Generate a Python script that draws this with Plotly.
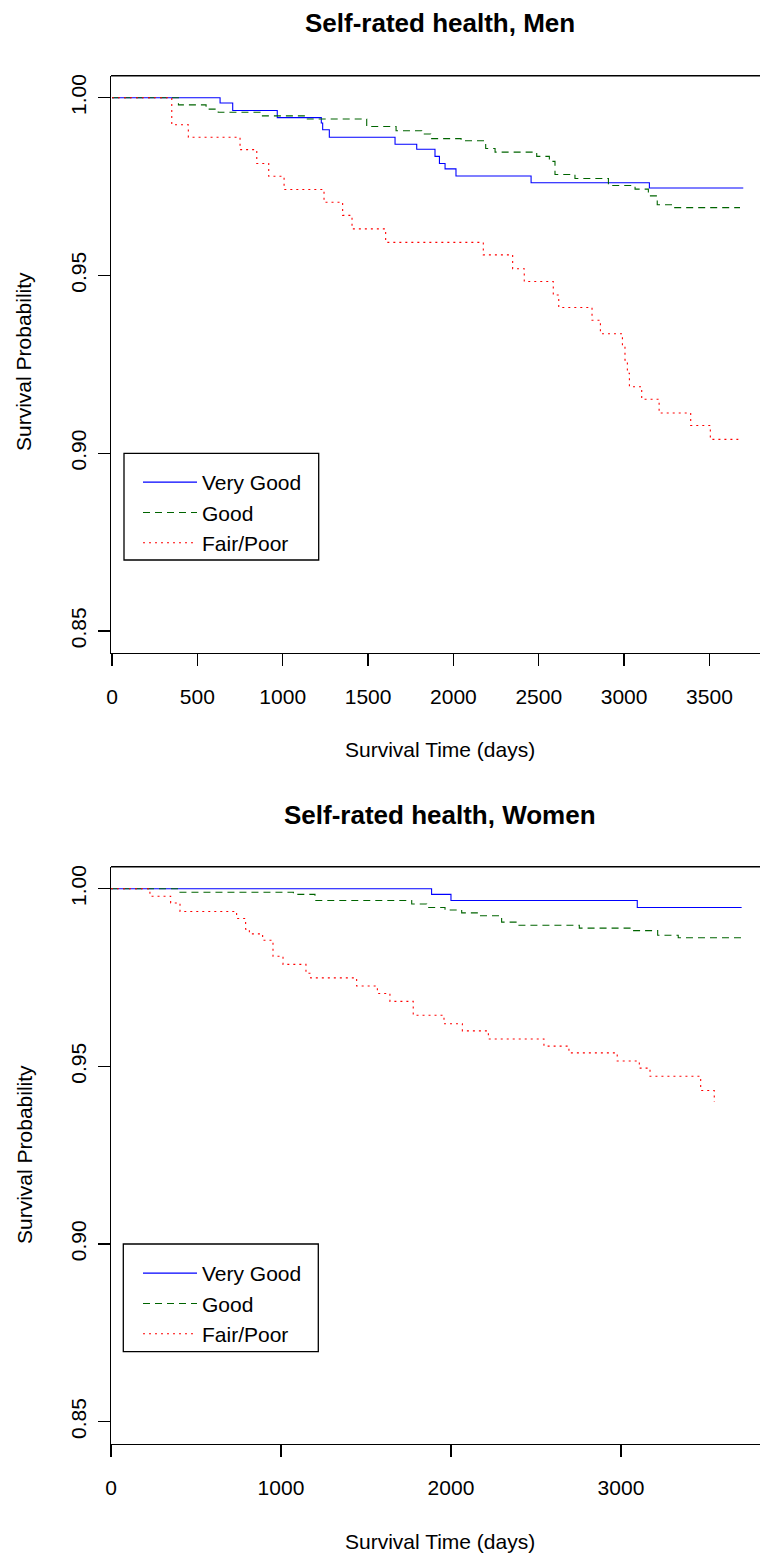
import plotly.graph_objects as go

# ---------------- Data ----------------
groups = ["Very Good", "Good", "Fair/Poor"]

# Men
men_vg_t = [0, 633, 707, 968, 1226, 1234, 1273, 1658, 1785, 1892, 1918, 1951, 2015, 2455, 3148, 3698]
men_vg_s = [1.0, 0.9985, 0.9964, 0.9944, 0.9929, 0.9910, 0.9889, 0.9869, 0.9855, 0.9835, 0.9815,
            0.9800, 0.9780, 0.9761, 0.9746, 0.9746]

men_good_t = [0, 389, 551, 622, 867, 1144, 1492, 1664, 1814, 1867, 2045, 2189, 2244, 2488, 2562,
              2595, 2712, 2908, 3064, 3142, 3194, 3282, 3679]
men_good_s = [1.0, 0.9980, 0.9968, 0.9959, 0.9949, 0.9940, 0.9919, 0.9907, 0.9898, 0.9885, 0.9879,
              0.9857, 0.9847, 0.9835, 0.9821, 0.9784, 0.9773, 0.9753, 0.9743, 0.9724, 0.9699,
              0.9691, 0.9691]

men_fp_t = [0, 350, 447, 750, 848, 918, 1008, 1242, 1351, 1406, 1603, 2175, 2347, 2415, 2585, 2617,
            2812, 2861, 2990, 3005, 3019, 3031, 3103, 3205, 3390, 3505, 3669]
men_fp_s = [1.0, 0.9924, 0.9889, 0.9854, 0.9815, 0.9779, 0.9742, 0.9706, 0.9669, 0.9631, 0.9593,
            0.9558, 0.9519, 0.9483, 0.9445, 0.9410, 0.9374, 0.9336, 0.9300, 0.9262, 0.9225,
            0.9187, 0.9152, 0.9113, 0.9078, 0.9039, 0.9039]

# Women
women_vg_t = [0, 1886, 2000, 3096, 3710]
women_vg_s = [1.0, 0.9984, 0.9967, 0.9947, 0.9947]

women_good_t = [0, 400, 1073, 1200, 1769, 1857, 1965, 2063, 2161, 2298, 2390, 2755, 3063, 3216,
                3337, 3719]
women_good_s = [1.0, 0.9990, 0.9984, 0.9967, 0.9957, 0.9947, 0.9940, 0.9932, 0.9924, 0.9906,
                0.9897, 0.9889, 0.9882, 0.9869, 0.9862, 0.9862]

women_fp_t = [0, 229, 351, 406, 739, 792, 814, 892, 953, 1012, 1147, 1175, 1445, 1567, 1641, 1778,
              1959, 2067, 2220, 2547, 2694, 2978, 3108, 3171, 3469, 3549]
women_fp_s = [1.0, 0.9979, 0.9960, 0.9936, 0.9916, 0.9886, 0.9873, 0.9855, 0.9810, 0.9787, 0.9762,
              0.9749, 0.9726, 0.9705, 0.9683, 0.9644, 0.9620, 0.9600, 0.9577, 0.9557, 0.9538,
              0.9515, 0.9495, 0.9472, 0.9432, 0.9400]

men_xticks = [0, 500, 1000, 1500, 2000, 2500, 3000, 3500]
women_xticks = [0, 1000, 2000, 3000]
y_ticks = [0.85, 0.90, 0.95, 1.00]
y_ticklabels = ["0.85", "0.90", "0.95", "1.00"]

titles = ["Self-rated health, Men", "Self-rated health, Women"]
x_title = "Survival Time (days)"
y_title = "Survival Probability"

# ---------------- Styling ----------------
W, H = 760, 1558
FONT = "Liberation Sans, Arial, Helvetica, sans-serif"
colors = ["#0000FF", "#006400", "#FF0000"]
dashes = ["solid", "7px,5px", "2px,4px"]


def px_x(p):
    return p / W


def px_y(p):
    return 1 - p / H


fig = go.Figure()

series = [
    ("x", "y", "legend", [(men_vg_t, men_vg_s), (men_good_t, men_good_s), (men_fp_t, men_fp_s)]),
    ("x2", "y2", "legend2", [(women_vg_t, women_vg_s), (women_good_t, women_good_s), (women_fp_t, women_fp_s)]),
]
for xa, ya, lg, data in series:
    for i, (t, s) in enumerate(data):
        fig.add_trace(go.Scatter(
            x=t, y=s, mode="lines", name=groups[i], line_shape="hv",
            line=dict(color=colors[i], width=1.1, dash=dashes[i]),
            xaxis=xa, yaxis=ya, legend=lg, showlegend=True, hoverinfo="skip",
        ))

axis_common = dict(
    showgrid=False, zeroline=False, showline=True, linecolor="black", linewidth=1.4,
    ticks="outside", ticklen=12, tickwidth=1.4, tickcolor="black", automargin=False,
    tickfont=dict(family=FONT, size=21, color="black"),
)

left = px_x(111)
top_dom = [px_y(653), px_y(75.7)]
bot_dom = [px_y(1444), px_y(866.7)]

legend_common = dict(xanchor="left", yanchor="top", bgcolor="rgba(0,0,0,0)", borderwidth=0,
                     font=dict(family=FONT, size=21, color="black"), itemwidth=54, tracegroupgap=0)

fig.update_layout(
    template="none",
    width=W, height=H, margin=dict(l=0, r=0, t=0, b=0, pad=0, autoexpand=False),
    paper_bgcolor="white", plot_bgcolor="white",
    font=dict(family=FONT, size=21, color="black"),
    xaxis=dict(domain=[left, 1], range=[-6, 3796], tickvals=men_xticks,
               ticktext=[str(v) for v in men_xticks], anchor="y", ticklabelstandoff=12, **axis_common),
    yaxis=dict(domain=top_dom, range=[0.8438, 1.0062], tickvals=y_ticks, ticktext=y_ticklabels,
               tickangle=-90, anchor="x", ticklabelstandoff=3, **axis_common),
    xaxis2=dict(domain=[left, 1], range=[0, 3818], tickvals=women_xticks,
                ticktext=[str(v) for v in women_xticks], anchor="y2", ticklabelstandoff=12, **axis_common),
    yaxis2=dict(domain=bot_dom, range=[0.8437, 1.0062], tickvals=y_ticks, ticktext=y_ticklabels,
                tickangle=-90, anchor="x2", ticklabelstandoff=3, **axis_common),
    legend=dict(x=px_x(138), y=px_y(462), **legend_common),
    legend2=dict(x=px_x(138), y=px_y(1253), **legend_common),
)

# top border of each plot box and legend boxes
shapes = []
for xa, ya in [("x", "y"), ("x2", "y2")]:
    shapes.append(dict(type="line", xref=f"{xa} domain", yref=f"{ya} domain", x0=0, x1=1, y0=1, y1=1,
                       line=dict(color="black", width=1.4)))
shapes.append(dict(type="rect", xref="paper", yref="paper", x0=px_x(124), x1=px_x(318.7),
                   y0=px_y(560), y1=px_y(453.3), line=dict(color="black", width=1.3)))
shapes.append(dict(type="rect", xref="paper", yref="paper", x0=px_x(123.3), x1=px_x(318.3),
                   y0=px_y(1351.7), y1=px_y(1244), line=dict(color="black", width=1.3)))
fig.update_layout(shapes=shapes)

ann = []
for title, yc in [(titles[0], 22.5), (titles[1], 815)]:
    ann.append(dict(text=f"<b>{title}</b>", x=px_x(440), y=px_y(yc), xref="paper", yref="paper",
                    xanchor="center", yanchor="middle", showarrow=False,
                    font=dict(family=FONT, size=26, color="black")))
for yc in [750, 1541]:
    ann.append(dict(text=x_title, x=px_x(440), y=px_y(yc), xref="paper", yref="paper",
                    xanchor="center", yanchor="middle", showarrow=False,
                    font=dict(family=FONT, size=21, color="black")))
for yc in [362, 1155]:
    ann.append(dict(text=y_title, x=px_x(24), y=px_y(yc), xref="paper", yref="paper",
                    xanchor="center", yanchor="middle", showarrow=False, textangle=-90,
                    font=dict(family=FONT, size=21, color="black")))
fig.update_layout(annotations=ann)

fig.write_html("out.html", config={"displayModeBar": False, "staticPlot": True},
               post_script="document.body.style.margin='0';document.body.style.overflow='hidden';")
